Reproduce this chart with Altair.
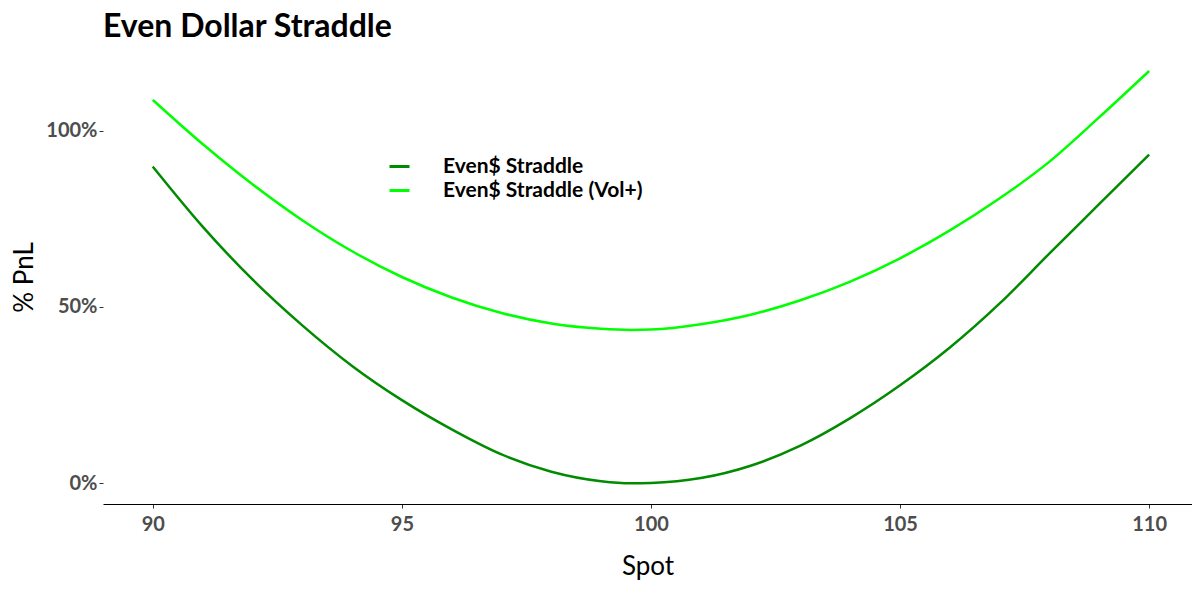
import altair as alt
import pandas as pd

spot = [90, 91, 92, 93, 94, 95, 96, 97, 98, 99, 99.6, 100, 101, 102, 103, 104, 105, 106, 107, 108, 109, 110]
straddle = [0.898, 0.728, 0.578, 0.448, 0.333, 0.236, 0.153, 0.082, 0.033, 0.006, 0.0, 0.001, 0.015, 0.05, 0.107, 0.185, 0.278, 0.385, 0.51, 0.652, 0.792, 0.932]
straddle_vol = [1.087, 0.962, 0.848, 0.746, 0.658, 0.585, 0.527, 0.483, 0.453, 0.438, 0.435, 0.436, 0.451, 0.478, 0.519, 0.572, 0.638, 0.717, 0.808, 0.912, 1.038, 1.169]
series_names = ["Even$ Straddle", "Even$ Straddle (Vol+)"]
colors = ["#008B00", "#00FF00"]

rows = []
for s, a, b in zip(spot, straddle, straddle_vol):
    rows.append({"Spot": s, "PnL": a, "Series": series_names[0]})
    rows.append({"Spot": s, "PnL": b, "Series": series_names[1]})
df = pd.DataFrame(rows)

FONT = "Lato"

chart = alt.Chart(df).mark_line(strokeWidth=2.5, interpolate="monotone").encode(
    x=alt.X("Spot:Q",
            scale=alt.Scale(domain=[89, 110.86], nice=False, zero=False),
            axis=alt.Axis(values=[90, 95, 100, 105, 110], title="Spot", grid=False,
                          domain=True, domainColor="#000000", domainWidth=1.2,
                          tickColor="#333333", tickSize=4,
                          labelFont=FONT, labelFontSize=20, labelFontWeight="bold",
                          labelColor="#4d4d4d", labelPadding=6,
                          titleFont=FONT, titleFontSize=26, titleFontWeight="normal",
                          titleColor="#000000", titlePadding=19)),
    y=alt.Y("PnL:Q",
            scale=alt.Scale(domain=[-0.0585, 1.2285], nice=False, zero=False),
            axis=alt.Axis(values=[0, 0.5, 1], format=".0%", title="% PnL", grid=False,
                          domain=False, tickColor="#333333", tickSize=4,
                          labelFont=FONT, labelFontSize=20, labelFontWeight="bold",
                          labelColor="#4d4d4d", labelPadding=2,
                          titleFont=FONT, titleFontSize=26, titleFontWeight="normal",
                          titleColor="#000000", titlePadding=8)),
    color=alt.Color("Series:N",
                    scale=alt.Scale(domain=series_names, range=colors),
                    legend=alt.Legend(title=None, orient="none", legendX=285, legendY=105,
                                      symbolType="stroke", symbolSize=400, symbolStrokeWidth=3,
                                      labelFont=FONT, labelFontSize=21, labelFontWeight="bold",
                                      labelColor="#000000", labelOffset=32, labelLimit=500,
                                      rowPadding=2)),
).properties(
    width=1089,
    height=454,
    background="white",
    title=alt.TitleParams("Even Dollar Straddle", anchor="start", frame="group", font=FONT,
                          fontSize=32, fontWeight="bold", color="#000000", offset=6),
    autosize=alt.AutoSizeParams(type="none"),
    padding={"left": 95, "top": 42, "right": 0, "bottom": 90},
).configure_view(stroke="transparent", strokeWidth=0)

chart.save("out.html", embed_options={"renderer": "svg", "actions": False})
